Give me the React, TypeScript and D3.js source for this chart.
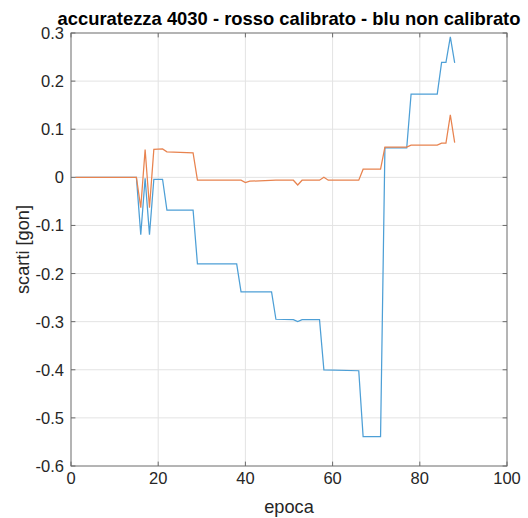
import React from 'react'
import * as d3 from 'd3'

// blu: non calibrato
const blueEpoch = [1, 15, 16, 17, 18, 19, 21, 22, 28, 29, 38, 39, 46, 47, 51, 52, 53, 57, 58, 66, 67, 71, 72, 77, 78, 84, 85, 86, 87, 88]
const blueValue = [0, 0, -0.119, -0.002, -0.119, -0.004, -0.004, -0.068, -0.068, -0.18, -0.18, -0.238, -0.238, -0.295, -0.296, -0.3, -0.296, -0.296, -0.4, -0.402, -0.539, -0.539, 0.061, 0.061, 0.173, 0.173, 0.239, 0.239, 0.292, 0.238]

// rosso: calibrato
const orangeEpoch = [1, 15, 16, 17, 18, 19, 21, 22, 28, 29, 39, 40, 41, 47, 51, 52, 53, 57, 58, 59, 66, 67, 71, 72, 77, 78, 84, 85, 86, 87, 88]
const orangeValue = [0, 0, -0.063, 0.058, -0.063, 0.058, 0.059, 0.053, 0.051, -0.006, -0.006, -0.011, -0.008, -0.006, -0.006, -0.016, -0.006, -0.006, 0.0, -0.006, -0.006, 0.017, 0.017, 0.063, 0.063, 0.067, 0.067, 0.071, 0.071, 0.13, 0.072]

const xTicks = [0, 20, 40, 60, 80, 100]
const yTicks = [0.3, 0.2, 0.1, 0, -0.1, -0.2, -0.3, -0.4, -0.5, -0.6]

const W = 528
const H = 518
const margin = { left: 71, right: 21, top: 33, bottom: 52 }
const font = '"Liberation Sans", Arial, Helvetica, sans-serif'
const ink = '#262626'

const App = () => {
  const x = d3.scaleLinear().domain([0, 100]).range([margin.left, W - margin.right])
  const y = d3.scaleLinear().domain([-0.6, 0.3]).range([H - margin.bottom, margin.top])

  const path = (ex: number[], vals: number[]) =>
    d3
      .line<[number, number]>()
      .x(d => x(d[0]))
      .y(d => y(d[1]))(ex.map((e, i) => [e, vals[i]] as [number, number])) || ''

  const [x0, x1] = x.range()
  const [y0, y1] = y.range()
  const tick = 4.4
  const fmt = (v: number) => String(+v.toFixed(1))

  return (
    <svg
      width={W}
      height={H}
      style={{ position: 'absolute', left: 0, top: 0, background: '#fff' }}
      fontFamily={font}
    >
      <rect x={0} y={0} width={W} height={H} fill="#fff" />
      {/* grid */}
      <g stroke="#e3e3e3" strokeWidth={1}>
        {xTicks.slice(1, -1).map(t => (
          <line key={'gx' + t} x1={x(t)} x2={x(t)} y1={y1} y2={y0} />
        ))}
        {yTicks.slice(1, -1).map(t => (
          <line key={'gy' + t} x1={x0} x2={x1} y1={y(t)} y2={y(t)} />
        ))}
      </g>

      {/* data */}
      <path d={path(blueEpoch, blueValue)} fill="none" stroke="#4d9fd6" strokeWidth={1.25} />
      <path d={path(orangeEpoch, orangeValue)} fill="none" stroke="#e8834f" strokeWidth={1.25} />

      {/* box + ticks */}
      <g stroke="#6b6b6b" strokeWidth={1} fill="none">
        <rect x={x0} y={y1} width={x1 - x0} height={y0 - y1} />
        {xTicks.map(t => (
          <g key={'tx' + t}>
            <line x1={x(t)} x2={x(t)} y1={y0} y2={y0 - tick} />
            <line x1={x(t)} x2={x(t)} y1={y1} y2={y1 + tick} />
          </g>
        ))}
        {yTicks.map(t => (
          <g key={'ty' + t}>
            <line x1={x0} x2={x0 + tick} y1={y(t)} y2={y(t)} />
            <line x1={x1} x2={x1 - tick} y1={y(t)} y2={y(t)} />
          </g>
        ))}
      </g>

      {/* tick labels */}
      <g fill={ink} fontSize={16.5}>
        {xTicks.map(t => (
          <text key={'lx' + t} x={x(t)} y={y0 + 18} textAnchor="middle">
            {fmt(t)}
          </text>
        ))}
        {yTicks.map(t => (
          <text key={'ly' + t} x={x0 - 7} y={y(t) + 6} textAnchor="end">
            {fmt(t)}
          </text>
        ))}
      </g>

      {/* labels */}
      <text x={(x0 + x1) / 2} y={H - 5} textAnchor="middle" fontSize={18.2} fill={ink}>
        epoca
      </text>
      <text
        transform={`translate(${29},${(y0 + y1) / 2}) rotate(-90)`}
        textAnchor="middle"
        fontSize={18.2}
        fill={ink}
      >
        scarti [gon]
      </text>
      <text x={(x0 + x1) / 2} y={25} textAnchor="middle" fontSize={18.4} fontWeight="bold" fill="#000">
        accuratezza 4030 - rosso calibrato - blu non calibrato
      </text>
    </svg>
  )
}

export default App
